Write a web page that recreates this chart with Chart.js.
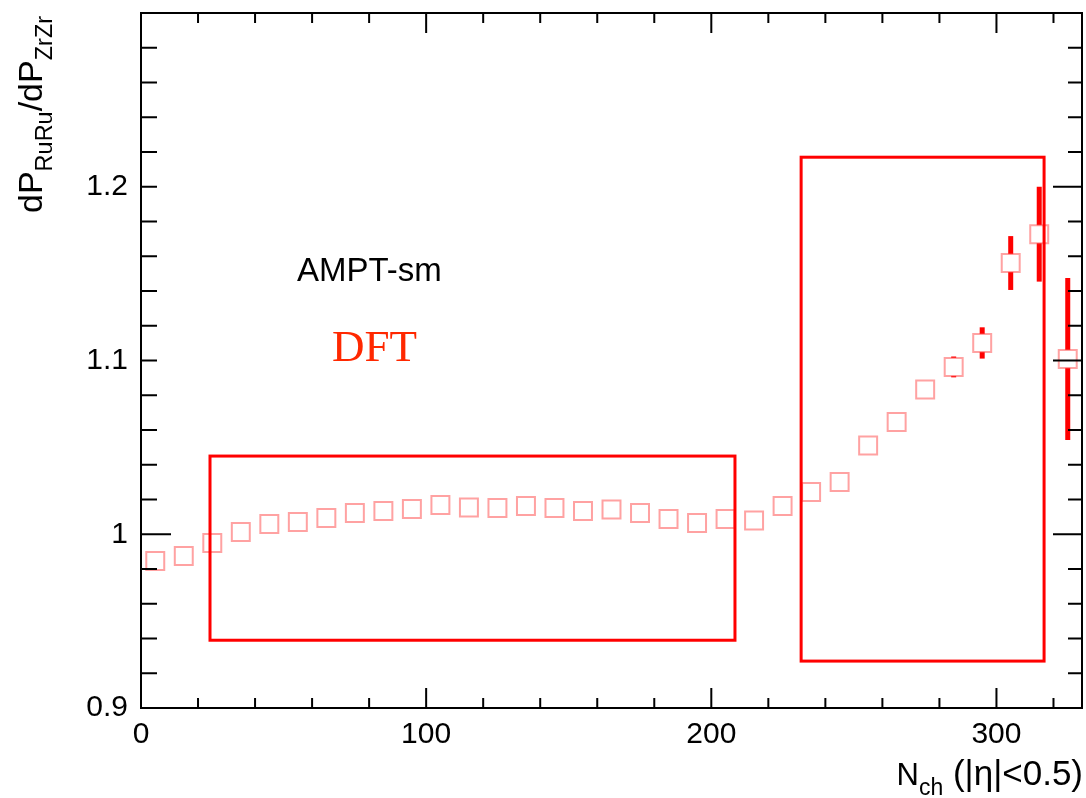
<!DOCTYPE html>
<html>
<head>
<meta charset="utf-8">
<script src="https://cdn.jsdelivr.net/npm/chart.js@4.4.1/dist/chart.umd.min.js"></script>
<style>
  html, body { margin: 0; padding: 0; background: #fff; }
  canvas { display: block; }
</style>
</head>
<body>
<canvas id="chart" width="1086" height="798"></canvas>
<script>
// bin centres in N_ch
const nch = [5, 15, 25, 35, 45, 55, 65, 75, 85, 95, 105, 115, 125, 135, 145, 155,
  165, 175, 185, 195, 205, 215, 225, 235, 245, 255, 265, 275, 285, 295, 305, 315, 325];

// dP_RuRu / dP_ZrZr
const ratio = [0.9846, 0.9875, 0.9950, 1.0013, 1.0059, 1.0070, 1.0094, 1.0122, 1.0134,
  1.0145, 1.0168, 1.0154, 1.0151, 1.0163, 1.0151, 1.0134, 1.0142, 1.0122, 1.0088,
  1.0065, 1.0088, 1.0079, 1.0163, 1.0243, 1.0301, 1.0511, 1.0646, 1.0833, 1.0963,
  1.1101, 1.1561, 1.1727, 1.1009];

// stat errors (only the last few stick out of the markers)
const ratioErr = [0, 0, 0, 0, 0, 0, 0, 0, 0, 0, 0, 0, 0, 0, 0, 0, 0, 0, 0, 0, 0, 0,
  0, 0, 0, 0, 0, 0, 0.006, 0.009, 0.0155, 0.0273, 0.0466];

const xTickValues = [0, 100, 200, 300];
const xTickLabels = ["0", "100", "200", "300"];
const yTickValues = [0.9, 1, 1.1, 1.2];
const yTickLabels = ["0.9", "1", "1.1", "1.2"];

// highlight boxes in data units: [xMin, xMax, yMin, yMax]
const boxLow = [24.2, 208.3, 0.939, 1.045];
const boxHigh = [231.5, 316.7, 0.927, 1.217];

const SANS = '"Liberation Sans", Arial, Helvetica, sans-serif';
const SERIF = '"Liberation Serif", "Times New Roman", serif';

const points = nch.map((x, i) => ({ x: x, y: ratio[i] }));

// draw text pieces one after another, subscripts dropped a bit
function drawPieces(ctx, pieces) {
  let x = 0;
  pieces.forEach(p => {
    ctx.font = p.size + "px " + SANS;
    ctx.fillText(p.text, x, p.dy || 0);
    x += ctx.measureText(p.text).width;
  });
}
function piecesWidth(ctx, pieces) {
  let w = 0;
  pieces.forEach(p => {
    ctx.font = p.size + "px " + SANS;
    w += ctx.measureText(p.text).width;
  });
  return w;
}

const errorBars = {
  id: "errorBars",
  beforeDatasetsDraw(chart) {
    const { ctx, scales: { x, y } } = chart;
    ctx.save();
    ctx.strokeStyle = "#ff0000";
    ctx.lineWidth = 5;
    nch.forEach((n, i) => {
      if (!ratioErr[i]) return;
      const px = x.getPixelForValue(n);
      ctx.beginPath();
      ctx.moveTo(px, y.getPixelForValue(ratio[i] - ratioErr[i]));
      ctx.lineTo(px, y.getPixelForValue(ratio[i] + ratioErr[i]));
      ctx.stroke();
    });
    ctx.restore();
  }
};

const decorations = {
  id: "decorations",
  afterDraw(chart) {
    const { ctx, chartArea: a, scales: { x, y } } = chart;
    ctx.save();

    // red boxes
    ctx.strokeStyle = "#ff0000";
    ctx.lineWidth = 3;
    [boxLow, boxHigh].forEach(b => {
      const x0 = x.getPixelForValue(b[0]);
      const x1 = x.getPixelForValue(b[1]);
      const y0 = y.getPixelForValue(b[3]);
      const y1 = y.getPixelForValue(b[2]);
      ctx.strokeRect(x0, y0, x1 - x0, y1 - y0);
    });

    // frame + inward ticks (ROOT style)
    ctx.strokeStyle = "#000";
    ctx.lineWidth = 2;
    ctx.strokeRect(a.left, a.top, a.right - a.left, a.bottom - a.top);
    ctx.beginPath();
    for (let v = 0; v <= 330; v += 20) {
      const px = x.getPixelForValue(v);
      const len = v % 100 === 0 ? 20 : 10;
      ctx.moveTo(px, a.bottom); ctx.lineTo(px, a.bottom - len);
      ctx.moveTo(px, a.top); ctx.lineTo(px, a.top + len);
    }
    for (let i = 0; i <= 20; i++) {
      const py = y.getPixelForValue(0.9 + i * 0.02);
      ctx.moveTo(a.left, py); ctx.lineTo(a.left + (i === 5 ? 30 : 16), py);
      ctx.moveTo(a.right, py); ctx.lineTo(a.right - (i % 5 === 0 ? 29 : 14), py);
    }
    ctx.stroke();

    // labels inside the frame
    ctx.textBaseline = "alphabetic";
    ctx.textAlign = "left";
    ctx.fillStyle = "#000";
    ctx.font = "33px " + SANS;
    ctx.fillText("AMPT-sm", 297, 281);
    ctx.fillStyle = "rgb(255,40,0)";
    ctx.font = "45px " + SERIF;
    ctx.fillText("DFT", 332, 361);

    // axis titles
    ctx.fillStyle = "#000";
    const xTitle = [
      { text: "N", size: 31 },
      { text: "ch", size: 23, dy: 10 },
      { text: " (|\u03b7|<0.5)", size: 35 }
    ];
    ctx.save();
    ctx.translate(1083 - piecesWidth(ctx, xTitle), 785);
    drawPieces(ctx, xTitle);
    ctx.restore();

    const yTitle = [
      { text: "dP", size: 34 },
      { text: "RuRu", size: 23.5, dy: 10 },
      { text: "/dP", size: 34 },
      { text: "ZrZr", size: 23.5, dy: 10 }
    ];
    ctx.save();
    ctx.translate(42, 213);
    ctx.rotate(-Math.PI / 2);
    drawPieces(ctx, yTitle);
    ctx.restore();

    ctx.restore();
  }
};

new Chart(document.getElementById("chart"), {
  type: "scatter",
  data: {
    datasets: [{
      data: points,
      pointStyle: "rect",
      pointRadius: 12.7,
      pointBorderWidth: 2,
      pointBorderColor: "rgba(255,70,70,0.5)",
      pointBackgroundColor: "#ffffff",
      showLine: false,
      clip: false
    }]
  },
  options: {
    responsive: false,
    animation: false,
    layout: { autoPadding: false, padding: { left: 0, right: 4, top: 13, bottom: 0 } },
    plugins: { legend: { display: false }, tooltip: { enabled: false } },
    scales: {
      x: {
        type: "linear",
        min: 0,
        max: 330,
        grid: { display: false, drawTicks: false },
        border: { display: false },
        afterBuildTicks(s) { s.ticks = xTickValues.map(v => ({ value: v })); },
        afterFit(s) { s.height = 90; s.paddingLeft = 0; s.paddingRight = 0; },
        ticks: {
          padding: 9,
          maxRotation: 0,
          autoSkip: false,
          color: "#000",
          font: { family: SANS, size: 30 },
          callback: v => xTickLabels[xTickValues.indexOf(v)]
        }
      },
      y: {
        min: 0.9,
        max: 1.3,
        grid: { display: false, drawTicks: false },
        border: { display: false },
        afterBuildTicks(s) { s.ticks = yTickValues.map(v => ({ value: v })); },
        afterFit(s) { s.width = 141; s.paddingTop = 0; s.paddingBottom = 0; },
        ticks: {
          padding: 13,
          autoSkip: false,
          color: "#000",
          font: { family: SANS, size: 30 },
          callback: v => yTickLabels[yTickValues.indexOf(v)]
        }
      }
    }
  },
  plugins: [errorBars, decorations]
});
</script>
</body>
</html>
